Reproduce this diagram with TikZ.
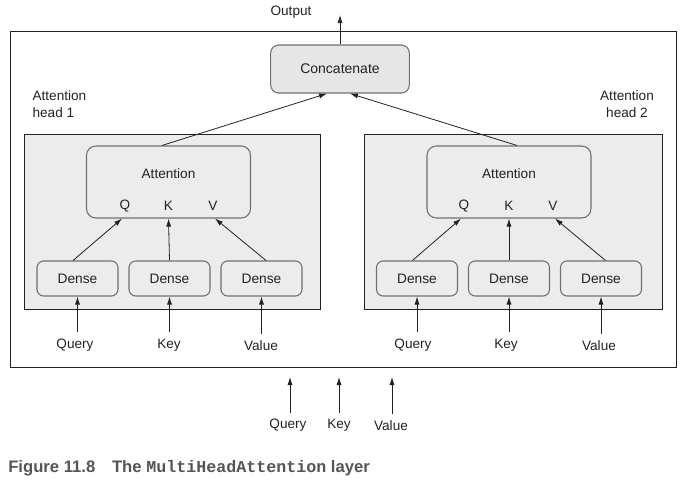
\documentclass[tikz,border=0pt]{standalone}
\usepackage{fontspec}
\setmainfont{Liberation Sans}
\setmonofont{Liberation Mono}
\usetikzlibrary{positioning,arrows.meta,calc}

\definecolor{panelgray}{HTML}{EBECEB}
\definecolor{boxgray}{HTML}{E6E6E6}
\definecolor{edgegray}{HTML}{707070}
\definecolor{inkgray}{HTML}{222222}
\definecolor{capgray}{HTML}{555555}

\begin{document}
\begin{tikzpicture}[x=0.75pt,y=-0.75pt,
    frame/.style={draw=inkgray, line width=0.7pt},
    panel/.style={draw=inkgray, fill=panelgray, line width=0.7pt},
    catbox/.style={rectangle, draw=edgegray, fill=boxgray, rounded corners=6pt, line width=0.8pt, minimum width=104pt, minimum height=36pt, font=\fontsize{10.5}{12}\selectfont, text=inkgray},
    attbox/.style={rectangle, draw=edgegray, fill=panelgray, rounded corners=7pt, line width=0.8pt, minimum width=123pt, minimum height=54pt},
    dense/.style={rectangle, draw=edgegray, fill=panelgray, rounded corners=5pt, line width=0.8pt, minimum width=60.75pt, minimum height=26.25pt, font=\fontsize{10.3}{12}\selectfont, text=inkgray},
    label/.style={font=\fontsize{10.2}{12.75}\selectfont, text=inkgray, inner sep=1pt},
    arrow/.style={-{Latex[length=6pt,width=3.8pt]}, draw=inkgray, line width=0.6pt}
]
\useasboundingbox (0,0) rectangle (692,486);

% Outer layer and the two heads
\draw[frame] (10,31) rectangle (676,367);
\draw[panel] (24,134) rectangle (320,309);
\draw[panel] (364,134) rectangle (662,309);

% Top
\node[label] (output) at (291,12.5) {Output};
\coordinate (outtip) at (340,15);
\node[catbox] (concat) at (340,69) {Concatenate};
\node[label, align=left, anchor=west] (head1) at (31,104) {Attention\\head 1};
\node[label, align=center] (head2) at (627,104) {Attention\\head 2};

% Head 1
\node[attbox] (att1) at (168.5,182) {};
\node[label] (atxt1) at (168.5,174) {Attention};
\node[label] (q1) at (125,206) {Q};
\node[label] (k1) at (168.5,206) {K};
\node[label] (v1) at (213,206) {V};
\node[dense] (d11) at (77.5,278.5) {Dense};
\node[dense] (d12) at (169.5,278.5) {Dense};
\node[dense] (d13) at (261.5,278.5) {Dense};
\node[label] (query1) at (75,345.5) {Query};
\node[label] (key1) at (169,345.5) {Key};
\node[label] (value1) at (261,345.5) {Value};

% Head 2
\node[attbox] (att2) at (509,182) {};
\node[label] (atxt2) at (509,174) {Attention};
\node[label] (q2) at (464,206) {Q};
\node[label] (k2) at (509,206) {K};
\node[label] (v2) at (553,206) {V};
\node[dense] (d21) at (417,278.5) {Dense};
\node[dense] (d22) at (509,278.5) {Dense};
\node[dense] (d23) at (601,278.5) {Dense};
\node[label] (query2) at (413,345.5) {Query};
\node[label] (key2) at (506,345.5) {Key};
\node[label] (value2) at (599,345.5) {Value};

% Layer inputs
\node[label] (query) at (288,425.5) {Query};
\node[label] (key) at (339,425.5) {Key};
\node[label] (value) at (391,425.5) {Value};
\coordinate (in1) at (290,377);
\coordinate (in2) at (339,377);
\coordinate (in3) at (392,377);

% Arrows
\draw[arrow] (concat.north) -- (outtip);
\draw[arrow] ($(att1.north)+(-6.5,0)$) -- ($(concat.south)+(-13,0)$);
\draw[arrow] ($(att2.north)+(8,0)$) -- ($(concat.south)+(10,0)$);

\draw[arrow] ($(d11.north)+(-4.5,0)$) -- ($(q1|-att1.south)+(-3,0)$);
\draw[arrow] (d12.north) -- (k1|-att1.south);
\draw[arrow] ($(d13.north)+(4.5,0)$) -- ($(v1|-att1.south)+(2,0)$);
\draw[arrow] ($(d21.north)+(-4.5,0)$) -- ($(q2|-att2.south)+(-3,0)$);
\draw[arrow] (d22.north) -- (k2|-att2.south);
\draw[arrow] ($(d23.north)+(4.5,0)$) -- ($(v2|-att2.south)+(2,0)$);

\draw[arrow, shorten <=4pt] (d11.south|-query1.north) -- (d11.south);
\draw[arrow, shorten <=4pt] (d12.south|-key1.north) -- (d12.south);
\draw[arrow, shorten <=4pt] (d13.south|-value1.north) -- (d13.south);
\draw[arrow, shorten <=4pt] (d21.south|-query2.north) -- (d21.south);
\draw[arrow, shorten <=4pt] (d22.south|-key2.north) -- (d22.south);
\draw[arrow, shorten <=4pt] (d23.south|-value2.north) -- (d23.south);

\draw[arrow, shorten <=3.5pt] (in1|-query.north) -- (in1);
\draw[arrow, shorten <=3.5pt] (in2|-key.north) -- (in2);
\draw[arrow, shorten <=3.5pt] (in3|-value.north) -- (in3);

% Caption
\node[anchor=west, inner sep=0pt, text=capgray, font=\bfseries\fontsize{12.5}{14}\selectfont] (caption) at (8,468)
  {Figure 11.8\hspace{1em}The \texttt{MultiHeadAttention} layer};

\end{tikzpicture}
\end{document}
